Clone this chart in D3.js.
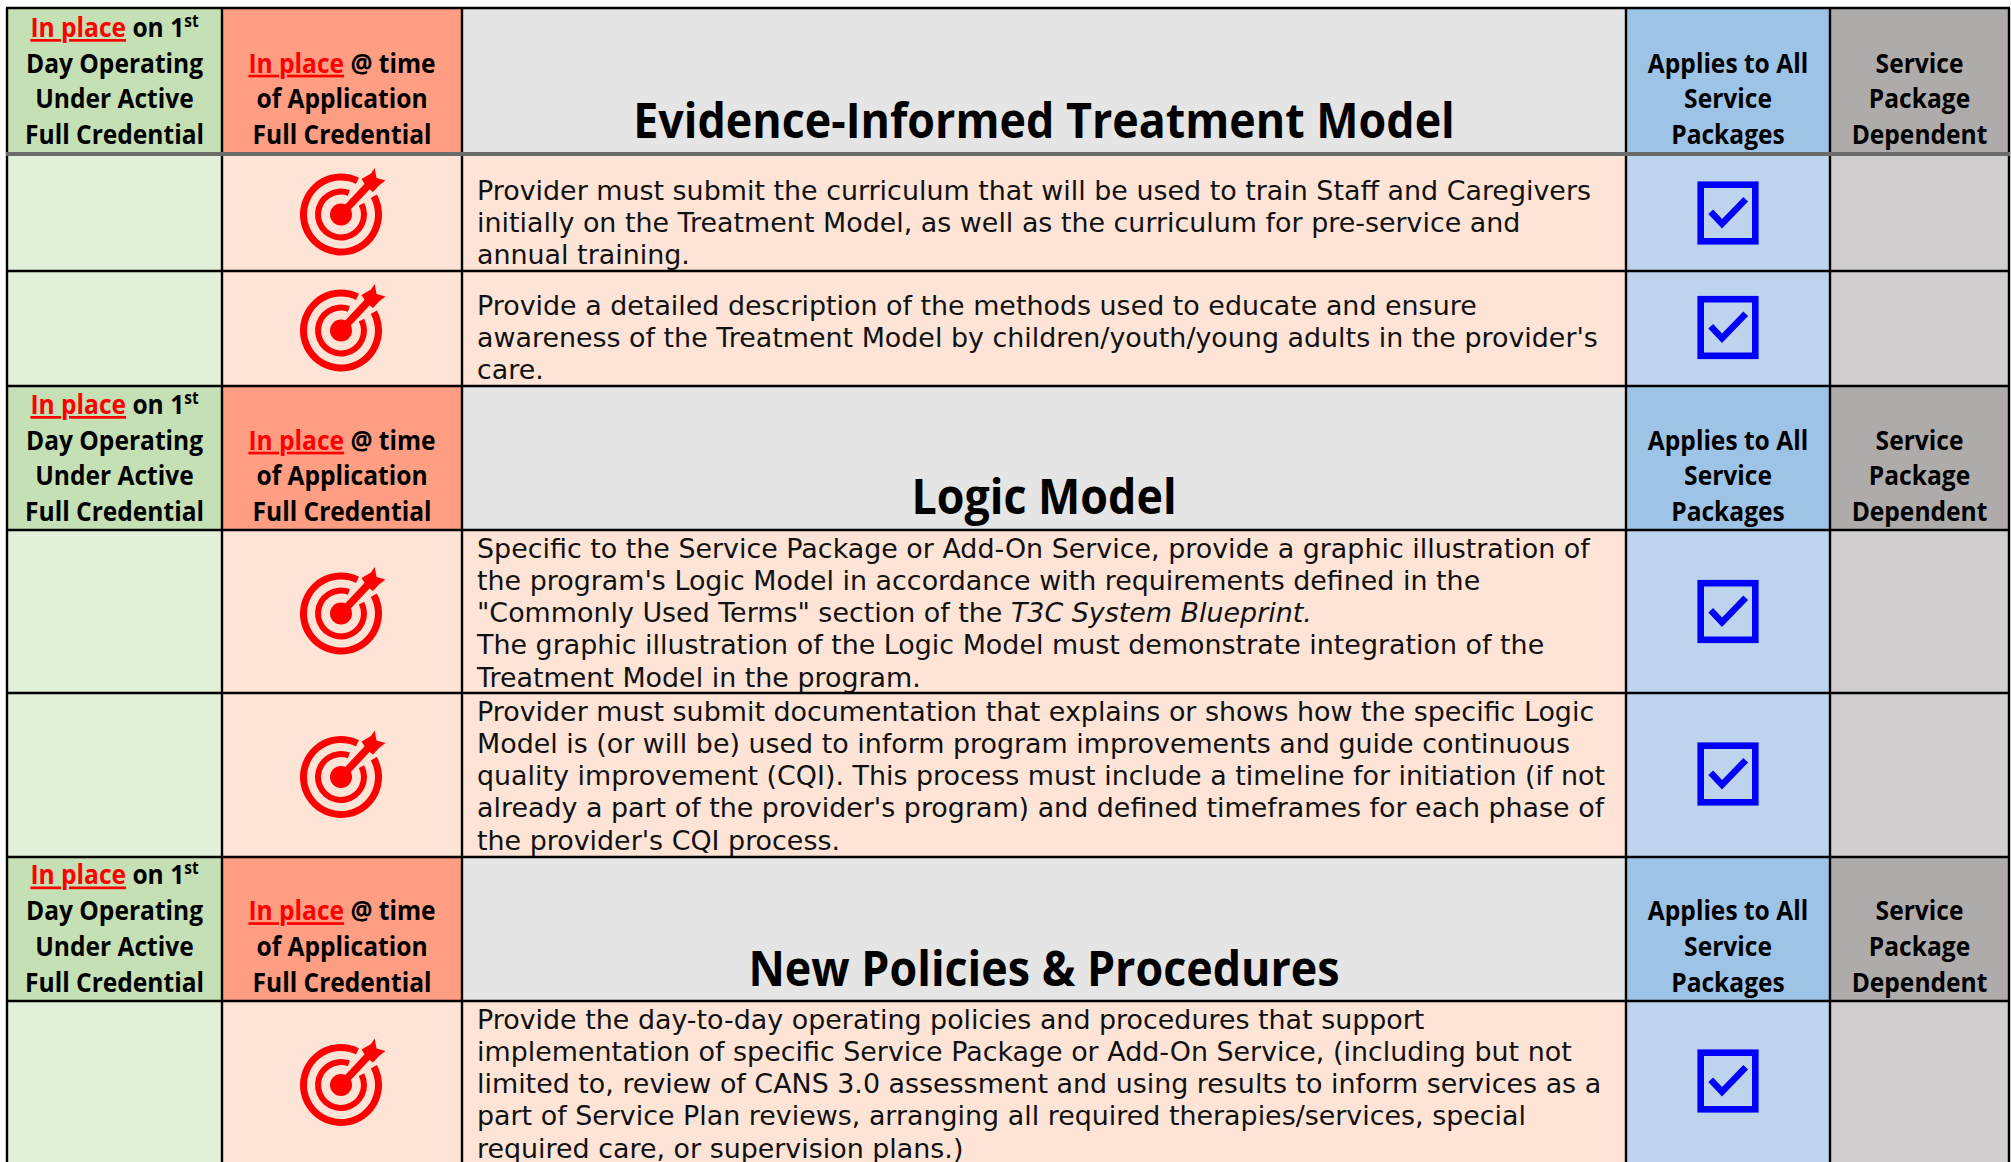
<!DOCTYPE html>
<html>
<head>
<meta charset="utf-8">
<script src="https://cdn.jsdelivr.net/npm/d3@7"></script>
<style>
  html, body { margin: 0; padding: 0; background: #fff; overflow: hidden; }
  svg { display: block; }
  .head { font-family: "Open Sans", sans-serif; font-weight: 700; fill: #000; text-anchor: middle; }
  .body { font-family: "DejaVu Sans", sans-serif; fill: #111; }
</style>
</head>
<body>
<div id="chart"></div>
<script>
// Table content
const columns = ["firstDay", "application", "requirement", "allPackages", "dependent"];
const firstDayHeader = ["Day Operating", "Under Active", "Full Credential"];
const applicationHeader = ["of Application", "Full Credential"];
const allPackagesHeader = ["Applies to All", "Service", "Packages"];
const dependentHeader = ["Service", "Package", "Dependent"];
const sectionTitles = ["Evidence-Informed Treatment Model", "Logic Model", "New Policies & Procedures"];
const rowLines = [
    ["Provider must submit the curriculum that will be used to train Staff and Caregivers",
     "initially on the Treatment Model, as well as the curriculum for pre-service and",
     "annual training."],
    ["Provide a detailed description of the methods used to educate and ensure",
     "awareness of the Treatment Model by children/youth/young adults in the provider's",
     "care."],
    ["Specific to the Service Package or Add-On Service, provide a graphic illustration of",
     "the program's Logic Model in accordance with requirements defined in the",
     "\"Commonly Used Terms\" section of the |T3C System Blueprint.",
     "The graphic illustration of the Logic Model must demonstrate integration of the",
     "Treatment Model in the program."],
    ["Provider must submit documentation that explains or shows how the specific Logic",
     "Model is (or will be) used to inform program improvements and guide continuous",
     "quality improvement (CQI). This process must include a timeline for initiation (if not",
     "already a part of the provider's program) and defined timeframes for each phase of",
     "the provider's CQI process."],
    ["Provide the day-to-day operating policies and procedures that support",
     "implementation of specific Service Package or Add-On Service, (including but not",
     "limited to, review of CANS 3.0 assessment and using results to inform services as a",
     "part of Service Plan reviews, arranging all required therapies/services, special",
     "required care, or supervision plans.)"]
];

// Layout
const width = 2011, height = 1162;
const colEdges = [7, 222, 462, 1626, 1830, 2009];
const headerTops = [8, 386, 857];
const headerBottoms = [154, 530, 1001];
const headerShift = [0, 1, 0.5];
const titleRise = [16, 16, 15];
const rowTops = [154, 271, 530, 693, 1001];
const rowBottoms = [271, 386, 693, 857, 1165];
const firstBaseline = [45.5, 43.5, 27.5, 27.5, 27.5];
const checkShift = [0.5, -1, 0, -1, -2];

const headerFill = ["#C5E0B4", "#FF9E82", "#E5E5E5", "#9DC3E6", "#AFABAB"];
const rowFill = ["#E2EFD9", "#FDE4D6", "#FDE4D6", "#BDD4EC", "#D0CECE"];

const colLeft = d3.scaleOrdinal().domain(columns).range(colEdges.slice(0, 5));
const colRight = d3.scaleOrdinal().domain(columns).range(colEdges.slice(1));
const colMid = c => (colLeft(c) + colRight(c)) / 2;

const svg = d3.select("#chart").append("svg")
    .attr("width", width)
    .attr("height", height);

// Cell backgrounds
columns.forEach(function(c, i) {
    svg.selectAll(null).data(headerTops).enter().append("rect")
        .attr("x", colLeft(c)).attr("width", colRight(c) - colLeft(c))
        .attr("y", d => d)
        .attr("height", (d, k) => headerBottoms[k] - d)
        .attr("fill", headerFill[i]);
    svg.selectAll(null).data(rowTops).enter().append("rect")
        .attr("x", colLeft(c)).attr("width", colRight(c) - colLeft(c))
        .attr("y", d => d)
        .attr("height", (d, k) => rowBottoms[k] - d)
        .attr("fill", rowFill[i]);
});

// Grid lines
colEdges.forEach(function(x) {
    svg.append("line")
        .attr("x1", x).attr("x2", x).attr("y1", 8).attr("y2", height)
        .attr("stroke", "#000")
        .attr("stroke-width", 2.4);
});
[8, 271, 386, 530, 693, 857, 1001].forEach(function(y) {
    svg.append("line")
        .attr("x1", 6).attr("x2", 2010).attr("y1", y).attr("y2", y)
        .attr("stroke", "#000")
        .attr("stroke-width", 2.4);
});
svg.append("line")
    .attr("x1", 6).attr("x2", 2010).attr("y1", 154).attr("y2", 154)
    .attr("stroke", "#6b6b6b")
    .attr("stroke-width", 4);

// Header text, Open Sans squeezed to sit close to the original width
const headScaleX = 0.91, titleScaleX = 0.93, headSize = 27;

function headLine(x, y) {
    return svg.append("text")
        .attr("class", "head")
        .attr("transform", `translate(${x},${y}) scale(${headScaleX},1)`)
        .attr("font-size", headSize);
}

function inPlace(t) {
    t.append("tspan")
        .attr("fill", "#FF0000")
        .attr("text-decoration", "underline")
        .text("In place");
}

headerBottoms.forEach(function(bottom, s) {
    const b = bottom + headerShift[s];
    const base = [b - 81.4, b - 45.7, b - 10];

    // first column: four lines, with the superscript
    const t1 = headLine(colMid("firstDay"), b - 117.1);
    inPlace(t1);
    t1.append("tspan").text(" on 1");
    t1.append("tspan").attr("font-size", 17).attr("dy", -10).text("st");
    firstDayHeader.forEach((d, i) => headLine(colMid("firstDay"), base[i]).text(d));

    const t2 = headLine(colMid("application"), base[0]);
    inPlace(t2);
    t2.append("tspan").text(" @ time");
    applicationHeader.forEach((d, i) => headLine(colMid("application"), base[i + 1]).text(d));

    allPackagesHeader.forEach((d, i) => headLine(colMid("allPackages"), base[i]).text(d));
    dependentHeader.forEach((d, i) => headLine(colMid("dependent"), base[i]).text(d));

    svg.append("text")
        .attr("class", "head")
        .attr("transform", `translate(${colMid("requirement")},${bottom - titleRise[s]}) scale(${titleScaleX},1)`)
        .attr("font-size", 48.2)
        .text(sectionTitles[s]);
});

// Requirement rows
const bodySize = 26.9, linePitch = 32.3;
rowLines.forEach(function(lines, r) {
    lines.forEach(function(line, i) {
        const t = svg.append("text")
            .attr("class", "body")
            .attr("x", colLeft("requirement") + 15)
            .attr("y", rowTops[r] + firstBaseline[r] + i * linePitch)
            .attr("font-size", bodySize);
        const parts = line.split("|");
        t.append("tspan").text(parts[0]);
        if (parts[1]) t.append("tspan").attr("font-style", "italic").text(parts[1]);
    });
});

// Target icon
const ring = d3.arc();
const deg = Math.PI / 180;
const arrowLine = d3.line();
function drawTarget(cx, cy) {
    const g = svg.append("g").attr("transform", `translate(${cx},${cy})`).attr("fill", "#FF0000");
    g.append("path").attr("d", ring({innerRadius: 34, outerRadius: 41, startAngle: 61 * deg, endAngle: 386 * deg}));
    g.append("path").attr("d", ring({innerRadius: 20, outerRadius: 26, startAngle: 63 * deg, endAngle: 380 * deg}));
    g.append("circle").attr("r", 11);
    g.append("path")
        .attr("d", arrowLine([[0, 0], [28.5, -30.5]]))
        .attr("stroke", "#FF0000")
        .attr("stroke-width", 7.5);
    g.append("path")
        .attr("d", arrowLine([[20.5, -35.5], [30, -41], [33.7, -46.5], [35.5, -36.5], [44.5, -34], [38, -29], [32, -22.5], [26, -27]]) + "Z");
}

// Check box icon
function drawCheck(cx, cy) {
    const g = svg.append("g").attr("transform", `translate(${cx},${cy})`);
    g.append("rect")
        .attr("x", -27.3).attr("y", -28.3).attr("width", 54.6).attr("height", 56.6)
        .attr("fill", "none").attr("stroke", "#0000FF").attr("stroke-width", 6.6);
    g.append("path")
        .attr("d", arrowLine([[-17.3, -1.3], [-6, 10.7], [17.7, -13.7]]))
        .attr("fill", "none").attr("stroke", "#0000FF").attr("stroke-width", 6.6);
}

rowTops.forEach(function(top, r) {
    const mid = (top + rowBottoms[r]) / 2;
    drawTarget(colMid("application") - 1, mid + 2);
    drawCheck(colMid("allPackages"), mid + checkShift[r]);
});
</script>
</body>
</html>
